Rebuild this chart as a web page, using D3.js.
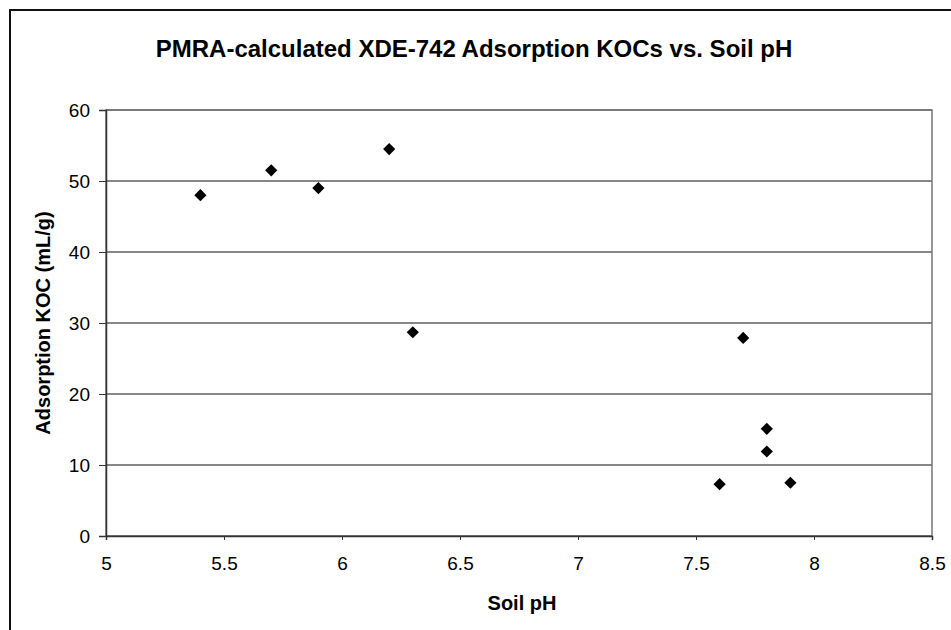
<!DOCTYPE html>
<html>
<head>
<meta charset="utf-8">
<script src="https://cdn.jsdelivr.net/npm/d3@7"></script>
<style>
  body { margin: 0; background: #fff; }
  svg { display: block; font-family: "Liberation Sans", Arial, sans-serif; }
</style>
</head>
<body>
<svg id="chart" width="951" height="630"></svg>
<script>
// soil pH and adsorption KOC (mL/g)
const soilPH = [5.4, 5.7, 5.9, 6.2, 6.3, 7.6, 7.7, 7.8, 7.8, 7.9];
const koc = [48.0, 51.5, 49.0, 54.5, 28.7, 7.3, 27.9, 15.1, 11.9, 7.5];

const xTicks = [5, 5.5, 6, 6.5, 7, 7.5, 8, 8.5];
const yTicks = [0, 10, 20, 30, 40, 50, 60];

const svg = d3.select("#chart");
const margin = { left: 106, right: 19, top: 110, bottom: 94 };
const width = 951 - margin.left - margin.right;
const height = 630 - margin.top - margin.bottom;

// outer chart border (runs off the right and bottom of the picture)
svg.append("rect")
  .attr("x", 10).attr("y", 10)
  .attr("width", 960).attr("height", 640)
  .attr("fill", "none")
  .attr("stroke", "#111")
  .attr("stroke-width", 2);

svg.append("text")
  .attr("x", 474).attr("y", 57)
  .attr("text-anchor", "middle")
  .style("font-size", "24px")
  .style("font-weight", "bold")
  .text("PMRA-calculated XDE-742 Adsorption KOCs vs. Soil pH");

const g = svg.append("g").attr("transform", `translate(${margin.left},${margin.top})`);

const x = d3.scaleLinear().domain([5, 8.5]).range([0, width]);
const y = d3.scaleLinear().domain([0, 60]).range([height, 0]);

// horizontal gridlines
g.append("g")
  .selectAll("line")
  .data(yTicks)
  .enter()
  .append("line")
  .attr("x1", 0).attr("x2", width)
  .attr("y1", d => y(d)).attr("y2", d => y(d))
  .attr("stroke", "#111")
  .attr("stroke-width", 1.2);

// plot area border
g.append("rect")
  .attr("width", width).attr("height", height)
  .attr("fill", "none")
  .attr("stroke", "#777")
  .attr("stroke-width", 1.5);

const xAxis = g.append("g")
  .attr("transform", `translate(0,${height})`)
  .call(d3.axisBottom(x).tickValues(xTicks).tickSize(4).tickPadding(17).tickFormat(d3.format("")));

const yAxis = g.append("g")
  .call(d3.axisLeft(y).tickValues(yTicks).tickSize(7).tickPadding(9));

[xAxis, yAxis].forEach(a => {
  a.select(".domain").attr("stroke", "#333").attr("stroke-width", 1.5);
  a.selectAll(".tick line").attr("stroke", "#333");
  a.selectAll(".tick text")
    .attr("fill", "#000")
    .style("font-size", "19px")
    .style("font-family", "'Liberation Sans', Arial, sans-serif");
});

// data points as black diamonds
g.selectAll(".pt")
  .data(soilPH.map((v, i) => [v, koc[i]]))
  .enter()
  .append("path")
  .attr("class", "pt")
  .attr("d", d3.symbol().type(d3.symbolDiamond2).size(95))
  .attr("transform", d => `translate(${x(d[0])},${y(d[1])})`)
  .attr("fill", "#000");

svg.append("text")
  .attr("x", 522).attr("y", 610)
  .attr("text-anchor", "middle")
  .style("font-size", "20px")
  .style("font-weight", "bold")
  .text("Soil pH");

svg.append("text")
  .attr("transform", `translate(50,${margin.top + height / 2}) rotate(-90)`)
  .attr("text-anchor", "middle")
  .style("font-size", "20px")
  .style("font-weight", "bold")
  .text("Adsorption KOC (mL/g)");
</script>
</body>
</html>
